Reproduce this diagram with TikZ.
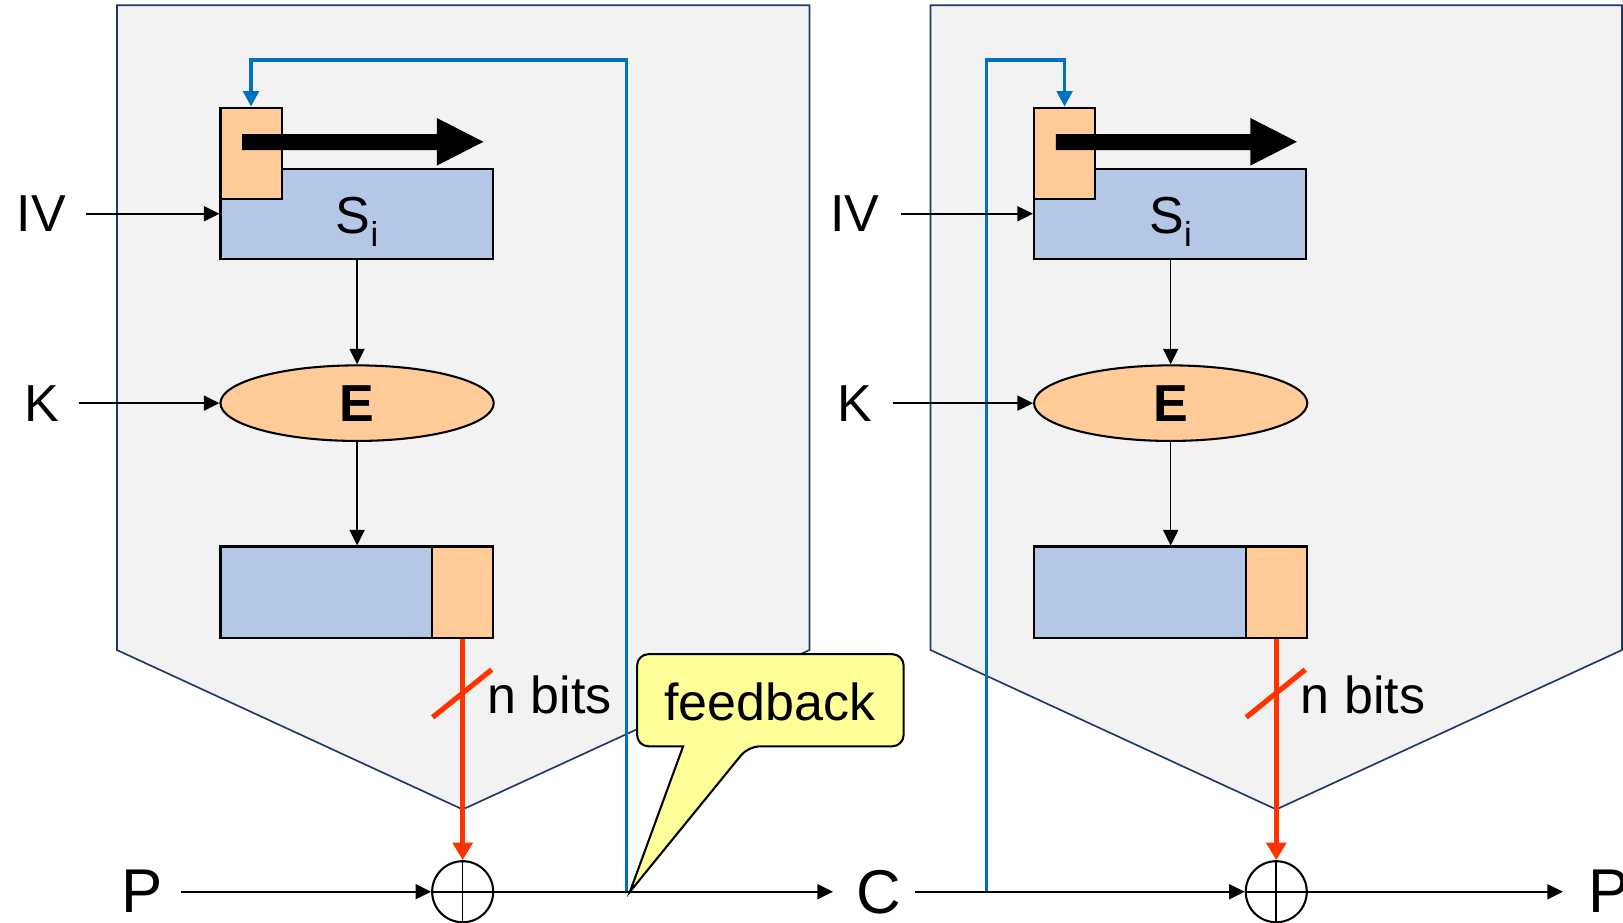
\documentclass[tikz,border=0pt]{standalone}
\usepackage{fontspec}
\setmainfont{Liberation Sans}
\usetikzlibrary{arrows.meta,shapes.geometric}
\definecolor{panelfill}{HTML}{F2F2F2}
\definecolor{paneldraw}{HTML}{1F3864}
\definecolor{regblue}{HTML}{B4C7E7}
\definecolor{regorange}{HTML}{FFCC99}
\definecolor{fbblue}{HTML}{0070C0}
\definecolor{bitsred}{HTML}{FF3300}
\definecolor{noteyellow}{HTML}{FFFF99}
\tikzset{
  panel/.style={fill=panelfill, draw=paneldraw, line width=0.16mm, line join=miter},
  bluebox/.style={draw=black, fill=regblue, line width=0.2mm, inner sep=0pt},
  orangebox/.style={draw=black, fill=regorange, line width=0.2mm, inner sep=0pt},
  encbox/.style={ellipse, draw=black, fill=regorange, line width=0.2mm, minimum width=26.4mm, minimum height=7.3mm, inner sep=0pt, font=\fontsize{14.3}{17}\selectfont\bfseries},
  lbl/.style={font=\fontsize{14.3}{17}\selectfont, inner sep=0pt},
  biglbl/.style={font=\fontsize{17}{20}\selectfont, inner sep=0pt},
  arr/.style={line width=0.15mm, -{Triangle[length=1.5mm,width=1.45mm]}},
  plainline/.style={line width=0.15mm},
  fbarr/.style={draw=fbblue, line width=0.33mm, -{Triangle[length=1.5mm,width=1.5mm]}},
  redarr/.style={draw=bitsred, line width=0.5mm, -{Triangle[length=1.7mm,width=1.9mm]}},
  redslash/.style={draw=bitsred, line width=0.5mm},
  xorc/.style={circle, draw=black, line width=0.2mm, minimum size=5.9mm, inner sep=0pt},
  bigarrow/.style={fill=black},
  note/.style={draw=black, fill=noteyellow, line width=0.2mm},
}
\begin{document}
\begin{tikzpicture}[x=0.1mm, y=-0.1mm]
\useasboundingbox (0,0) rectangle (1568,891);

% panels
\draw[panel] (113,5) -- (782,5) -- (782,628) -- (447,782) -- (113,628) -- cycle;
\draw[panel] (899,5) -- (1567,5) -- (1567,628) -- (1233,782) -- (899,628) -- cycle;

% ---------- left ----------
\node[bluebox, minimum width=26.3mm, minimum height=8.7mm] (siL) at (344.5,206.5) {};
\node[orangebox, minimum width=5.9mm, minimum height=8.8mm] (regL) at (242.5,148) {};
\fill[bigarrow] (234,129.5) -- (422,129.5) -- (422,114) -- (467,137) -- (422,160) -- (422,145) -- (234,145) -- cycle;
\node[lbl, anchor=base] (siLt) at (345,226) {S\raisebox{-0.24em}{\fontsize{9.5}{10}\selectfont i}};
\node[encbox] (encL) at (345,389.5) {E};
\node[bluebox, minimum width=20.45mm, minimum height=8.8mm] (outLb) at (315.25,572) {};
\node[orangebox, minimum width=5.9mm, minimum height=8.8mm] (outLo) at (447,572) {};
\node[xorc] (xorL) at (447,861.5) {};
\draw[plainline] (xorL.north) -- (xorL.south) (xorL.west) -- (xorL.east);

\node[lbl] (ivL) at (40,206.5) {IV};
\node[lbl] (kL) at (40,389.5) {K};
\node[biglbl] (pL) at (137,861.5) {P};
\node[biglbl] (cM) at (849,861.5) {C};
\node[lbl, anchor=base west] (nbL) at (470,689) {n bits};

\coordinate (fbL) at (605,861.5);
\coordinate (fbtopL) at (605,58);
\draw[fbarr] (fbL) -- (fbtopL) -| (regL.north);

\draw[arr, shorten <=1.9mm] (ivL.east) -- (siL.west);
\draw[arr, shorten <=1.9mm] (kL.east) -- (encL.west);
\draw[arr] (siL.south -| encL.north) -- (encL.north);
\draw[arr] (encL.south) -- (encL.south |- outLb.north);
\draw[redarr] (outLo.south) -- (xorL.north);
\draw[redslash] (418,693) -- (475,647);
\draw[arr, shorten <=1.7mm] (pL.east) -- (xorL.west);
\draw[arr, shorten >=2.2mm] (xorL.east) -- (cM.west);

% ---------- right ----------
\node[bluebox, minimum width=26.3mm, minimum height=8.7mm] (siR) at (1130.5,206.5) {};
\node[orangebox, minimum width=5.9mm, minimum height=8.8mm] (regR) at (1028.5,148) {};
\fill[bigarrow] (1020,129.5) -- (1208,129.5) -- (1208,114) -- (1253,137) -- (1208,160) -- (1208,145) -- (1020,145) -- cycle;
\node[lbl, anchor=base] (siRt) at (1131,226) {S\raisebox{-0.24em}{\fontsize{9.5}{10}\selectfont i}};
\node[encbox] (encR) at (1131,389.5) {E};
\node[bluebox, minimum width=20.45mm, minimum height=8.8mm] (outRb) at (1101.25,572) {};
\node[orangebox, minimum width=5.9mm, minimum height=8.8mm] (outRo) at (1233,572) {};
\node[xorc] (xorR) at (1233,861.5) {};
\draw[plainline] (xorR.north) -- (xorR.south) (xorR.west) -- (xorR.east);

\node[lbl] (ivR) at (826,206.5) {IV};
\node[lbl] (kR) at (826,389.5) {K};
\node[biglbl, anchor=west] (pR) at (1534,861.5) {P};
\node[lbl, anchor=base west] (nbR) at (1256,689) {n bits};

\coordinate (fbR) at (953,861.5);
\coordinate (fbtopR) at (953,58);
\draw[fbarr] (fbR) -- (fbtopR) -| (regR.north);

\draw[arr, shorten <=2mm] (ivR.east) -- (siR.west);
\draw[arr, shorten <=1.9mm] (kR.east) -- (encR.west);
\draw[arr] (siR.south -| encR.north) -- (encR.north);
\draw[arr] (encR.south) -- (encR.south |- outRb.north);
\draw[redarr] (outRo.south) -- (xorR.north);
\draw[redslash] (1204,693) -- (1261,647);
\draw[arr, shorten <=1.3mm] (cM.east) -- (xorR.west);
\draw[arr, shorten >=2.4mm] (xorR.east) -- (pR.west);

% ---------- callout ----------
\coordinate (fbtip) at (608.6,861.5);
\draw[note] (660,721) [rounded corners=1.1mm] -- (615.5,721) -- (615.5,632) -- (873,632) -- (873,721) -- (723,721) [sharp corners] -- (fbtip) -- cycle;
\node[lbl, anchor=base] (fbnote) at (744,695.6) {feedback};
\end{tikzpicture}
\end{document}
